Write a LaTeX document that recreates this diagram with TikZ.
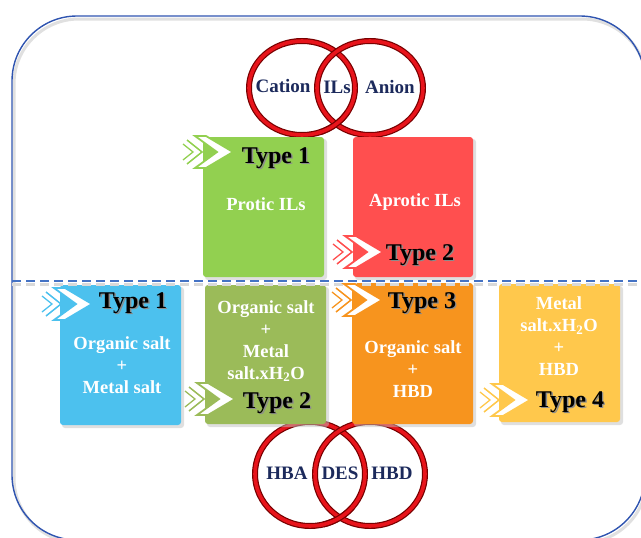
\documentclass[tikz,border=0pt]{standalone}
\usepackage{fontspec}
\setmainfont{Liberation Serif}
\definecolor{framebl}{HTML}{2F54B0}
\definecolor{dashbl}{HTML}{4472C4}
\definecolor{cgreen}{HTML}{92D050}
\definecolor{cred}{HTML}{FF4F4F}
\definecolor{cblue}{HTML}{4CC1EE}
\definecolor{colive}{HTML}{9BBB59}
\definecolor{corange}{HTML}{F7941E}
\definecolor{cyellow}{HTML}{FFC84C}
\definecolor{ringdk}{HTML}{780000}
\definecolor{ringrd}{HTML}{E8141B}
\definecolor{navy}{HTML}{1C2A5C}
\tikzset{
  box/.style={draw=none, rounded corners=3pt, minimum width=121pt, minimum height=140pt, inner sep=0pt},
  boxshadow/.style={fill=black!25, rounded corners=3pt, opacity=0.5},
  intext/.style={text=white, font=\bfseries\fontsize{18.5}{22}\selectfont, align=center, inner sep=0pt},
  circtext/.style={text=navy, font=\bfseries\fontsize{19}{21}\selectfont, inner sep=0pt},
  typetext/.style={font=\bfseries\fontsize{24}{27}\selectfont, inner sep=0pt},
  typeshadow/.style={typetext, text=black!45},
  ringdark/.style={draw=ringdk, line width=6pt},
  ringred/.style={draw=ringrd, line width=3.6pt},
}
\newcommand\chevs[3]{%
  \begin{scope}[shift={(#1,#2)}]
    \draw[#3, line width=1.3pt] (-50,-8) -- (-40,0) -- (-50,8);
    \draw[#3, line width=1.5pt] (-46,-12) -- (-31,0) -- (-46,12);
    \draw[#3, line width=1.8pt, fill=white, line join=miter] (-38,-16) -- (-27,-16) -- (0,0) -- (-27,16) -- (-38,16) -- (-16,0) -- cycle;
  \end{scope}}
\newcommand\typelab[4]{%
  \node[typeshadow] at (#2+1.4,#3+1.4) {#4};
  \node[typetext] (#1) at (#2,#3) {#4};}
\begin{document}
\begin{tikzpicture}[x=1pt,y=-1pt]
\useasboundingbox (0,0) rectangle (641,538);
% frame
\draw[black!12, line width=3pt, rounded corners=65pt] (14,19) rectangle (647,543);
\draw[framebl, line width=1.4pt, rounded corners=65pt] (12,16) rectangle (645,540);
% top circles
\draw[ringdark] (302,88) ellipse [x radius=53pt, y radius=47pt];
\draw[ringred] (302,88) ellipse [x radius=53pt, y radius=47pt];
\draw[ringdark] (370,88) ellipse [x radius=53pt, y radius=47pt];
\draw[ringred] (370,88) ellipse [x radius=53pt, y radius=47pt];
\draw[ringdark] plot[domain=30:70, samples=20, smooth] ({302+53*cos(\x)},{88+47*sin(\x)});
\draw[ringred] plot[domain=28:72, samples=20, smooth] ({302+53*cos(\x)},{88+47*sin(\x)});
\node[circtext] (cation) at (283,86) {Cation};
\node[circtext] (ils) at (337,87) {ILs};
\node[circtext] (anion) at (390,87) {Anion};
% bottom circles
\draw[ringdark] (310,474) ellipse [x radius=55pt, y radius=52pt];
\draw[ringred] (310,474) ellipse [x radius=55pt, y radius=52pt];
\draw[ringdark] (370,474) ellipse [x radius=55pt, y radius=52pt];
\draw[ringred] (370,474) ellipse [x radius=55pt, y radius=52pt];
\draw[ringdark] plot[domain=40:76, samples=20, smooth] ({310+55*cos(\x)},{474+52*sin(\x)});
\draw[ringred] plot[domain=38:78, samples=20, smooth] ({310+55*cos(\x)},{474+52*sin(\x)});
% box shadows
\fill[boxshadow] (205,139) rectangle (327,280);
\fill[boxshadow] (355,139) rectangle (476,280);
\fill[boxshadow] (62,287) rectangle (184,428);
\fill[boxshadow] (207,287) rectangle (329,427);
\fill[boxshadow] (354,285) rectangle (476,427);
\fill[boxshadow] (501,286) rectangle (623,425);
% boxes
\node[box, fill=cgreen] (g1) at (263.5,207) {};
\node[box, fill=cred, minimum width=120pt] (r2) at (413,207) {};
\node[box, fill=cblue] (b1) at (120.5,355) {};
\node[box, fill=colive, minimum height=139pt] (o2) at (265.5,354.5) {};
\node[box, fill=corange, minimum height=141pt] (or3) at (412.5,353.5) {};
\node[box, fill=cyellow, minimum height=138pt] (y4) at (559.5,353) {};
% dashed separator
\draw[black!15, line width=3pt, dash pattern=on 9pt off 5pt] (12,284) -- (641,284);
\draw[dashbl, line width=2.2pt, dash pattern=on 9pt off 5pt] (12,281) -- (641,281);
% box texts
\node[intext] (t1) at (266,204) {Protic ILs};
\node[intext] (t2) at (415,202) {Aprotic ILs};
\node[intext] (t3) at (122,365.5) {Organic salt\\+\\Metal salt};
\node[intext] (t4) at (266,341) {Organic salt\\+\\Metal\\salt.xH\textsubscript{2}O};
\node[intext] (t5) at (413,369) {Organic salt\\+\\HBD};
\node[intext] (t6) at (559,336.5) {Metal\\salt.xH\textsubscript{2}O\\+\\HBD};
% chevrons
\chevs{233}{152}{cgreen}
\chevs{383}{252}{cred}
\chevs{92}{304}{cblue}
\chevs{235}{399}{colive}
\chevs{382}{300}{corange}
\chevs{530}{400}{cyellow}
% type labels
\typelab{l1}{276}{158}{Type 1}
\typelab{l2}{420}{255}{Type 2}
\typelab{l3}{133}{303}{Type 1}
\typelab{l4}{277}{403}{Type 2}
\typelab{l5}{422}{303}{Type 3}
\typelab{l6}{570}{402}{Type 4}
% bottom circle texts
\node[circtext] (hba) at (287,473) {HBA};
\node[circtext] (des) at (340,473) {DES};
\node[circtext] (hbd) at (392,473) {HBD};
\end{tikzpicture}
\end{document}
